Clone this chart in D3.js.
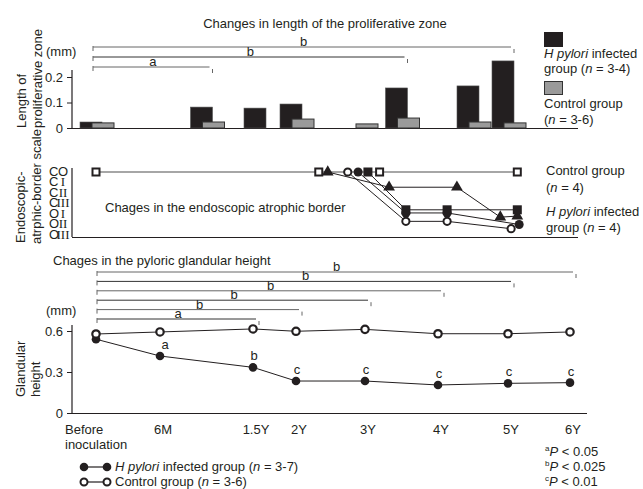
<!DOCTYPE html>
<html>
<head>
<meta charset="UTF-8" />
<title>H pylori chart</title>
<script src="https://d3js.org/d3.v7.min.js"></script>
<style>
  body { margin: 0; background: #fff; }
  svg text { font-family: "Liberation Sans", Arial, sans-serif; font-size: 13px; fill: #231f20; }
</style>
</head>
<body>
<svg id="chart" width="643" height="489"></svg>
<script>
// time axis shared by the three panels
const timeLabels = ["Before", "6M", "1.5Y", "2Y", "3Y", "4Y", "5Y", "6Y"]
const timeYears = [0, 0.5, 1.5, 2, 3, 4, 5, 6]

// top panel: length of proliferative zone (mm)
const prolifYears = [0, 1, 1.5, 2, 3, 3.5, 4.5, 5]
const prolifInfected = [0.0235, 0.082, 0.078, 0.094, null, 0.157, 0.165, 0.263]
const prolifControl = [0.02, 0.0235, null, 0.035, 0.016, 0.039, 0.0235, 0.02]
const prolifBracketEnds = [5, 3.5, 1]
const prolifBracketLabels = ["b", "b", "a"]

// middle panel: endoscopic atrophic border (0 = C-0 ... 6 = O-III)
const borderLevelA = ["C", "C", "C", "C", "O", "O", "O"]
const borderLevelB = ["O", "I", "II", "III", "I", "II", "III"]
const ctrlBorderYears = [0, 2.33, 3.2, 5.15]
const ctrlBorderLevels = [0, 0, 0, 0]
const triYears = [2.46, 3.33, 4.27, 4.89, 5.15]
const triLevels = [0, 1.45, 1.45, 4.3, 4.2]
const sqYears = [3.04, 3.56, 4.13, 5.15]
const sqLevels = [0, 3.6, 3.6, 3.6]
const dotYears = [2.9, 3.56, 4.13, 5.18]
const dotLevels = [0, 3.9, 3.9, 5.0]
const ringYears = [2.75, 3.56, 4.13, 5.05]
const ringLevels = [0, 4.7, 4.7, 5.4]

// bottom panel: pyloric glandular height (mm)
const heightInfected = [0.54, 0.417, 0.334, 0.234, 0.234, 0.205, 0.217, 0.222]
const heightControl = [0.578, 0.593, 0.615, 0.598, 0.612, 0.58, 0.58, 0.593]
const heightSig = [null, "a", "b", "c", "c", "c", "c", "c"]
const heightBracketEnds = [6, 5, 4, 3, 2, 1.5]
const heightBracketLabels = ["b", "b", "b", "b", "b", "a"]

const ink = "#231f20"
const svg = d3.select("#chart")

// scales
const x = d3.scaleLinear().domain(timeYears).range([96, 160, 253, 296, 365, 438, 508, 570])
const yTop = d3.scaleLinear().domain([0, 0.2]).range([128, 77])
const yMid = d3.scaleLinear().domain([0, 6]).range([172, 235])
const yBot = d3.scaleLinear().domain([0, 0.6]).range([413, 331])

function line(x1, y1, x2, y2, col, w) {
  svg.append("line").attr("x1", x1).attr("y1", y1).attr("x2", x2).attr("y2", y2)
    .attr("stroke", col || ink).attr("stroke-width", w || 1)
}

function yAxis(scale, ticks, fmt, top) {
  const ax = d3.axisLeft(scale).tickValues(ticks).tickSize(5).tickFormat(fmt)
  const g = svg.append("g").attr("transform", "translate(72,0)").call(ax)
  g.select(".domain").remove()
  g.selectAll("line").attr("stroke", ink)
  g.selectAll("text").attr("font-size", 13).attr("font-family", null).attr("dx", -1)
  line(72, top, 72, scale.range()[0] + 0.5, ink, 1.2)
}

function brackets(ends, labels, y0, step, xStart) {
  ends.forEach((t, i) => {
    const y = y0 + i * step
    const x2 = x(t) + 6
    line(xStart, y, x2 - 3, y, i % 2 ? "#333" : "#666", 1)
    line(xStart, y - 1, xStart, y + 4, "#666", 1)
    line(x2, y + 2, x2, y + 6, "#666", 1)
    svg.append("text").attr("x", (xStart + x2) / 2).attr("y", y - 1)
      .attr("text-anchor", "middle").text(labels[i])
  })
}

function vlabel(txt, xb, yb) {
  svg.append("text").attr("transform", `translate(${xb},${yb}) rotate(-90)`)
    .attr("font-size", 12).text(txt)
}

// ---------- top panel ----------
svg.append("text").attr("x", 325).attr("y", 28).attr("text-anchor", "middle")
  .text("Changes in length of the proliferative zone")
svg.append("text").attr("x", 46).attr("y", 56).text("(mm)")
brackets(prolifBracketEnds, prolifBracketLabels, 47, 10, 93)
yAxis(yTop, [0, 0.1, 0.2], d => d === 0 ? "0" : d3.format(".1f")(d), 70)
line(72, 128.5, 578, 128.5, ink, 1.2)
vlabel("Length of", 26, 128)
vlabel("proliferative zone", 42, 128)

const barW = 22
prolifYears.forEach((t, i) => {
  const both = prolifInfected[i] !== null && prolifControl[i] !== null
  const c = x(t)
  if (prolifInfected[i] !== null) {
    const bx = both ? c - 16 : c - 9
    svg.append("rect").attr("x", bx).attr("y", yTop(prolifInfected[i]))
      .attr("width", barW).attr("height", yTop(0) - yTop(prolifInfected[i]))
      .attr("fill", ink).attr("stroke", "#555").attr("stroke-width", 0.6)
  }
  if (prolifControl[i] !== null) {
    const bx = both ? c - 4 : c - 9
    svg.append("rect").attr("x", bx).attr("y", yTop(prolifControl[i]))
      .attr("width", barW).attr("height", yTop(0) - yTop(prolifControl[i]))
      .attr("fill", "#9a9a9a").attr("stroke", "#333").attr("stroke-width", 1)
  }
})

// top legend
svg.append("rect").attr("x", 544).attr("y", 32).attr("width", 19).attr("height", 15).attr("fill", ink)
let t1 = svg.append("text").attr("x", 544).attr("y", 58)
t1.append("tspan").attr("font-style", "italic").text("H pylori")
t1.append("tspan").text(" infected")
t1 = svg.append("text").attr("x", 544).attr("y", 73)
t1.append("tspan").text("group (")
t1.append("tspan").attr("font-style", "italic").text("n")
t1.append("tspan").text(" = 3-4)")
svg.append("rect").attr("x", 544.5).attr("y", 81.5).attr("width", 18).attr("height", 13)
  .attr("fill", "#9a9a9a").attr("stroke", "#333")
svg.append("text").attr("x", 544).attr("y", 108).text("Control group")
t1 = svg.append("text").attr("x", 544).attr("y", 124)
t1.append("tspan").text("(")
t1.append("tspan").attr("font-style", "italic").text("n")
t1.append("tspan").text(" = 3-6)")

// ---------- middle panel ----------
line(72, 168, 72, 237, ink, 1.2)
line(72, 237.5, 578, 237.5, ink, 1.2)
vlabel("Endoscopic-", 25, 243)
vlabel("atrphic-border scale", 41, 244)
borderLevelA.forEach((a, i) => {
  svg.append("text").attr("x", 49).attr("y", yMid(i) + 3.5).attr("font-size", 9.5).text(a)
  svg.append("text").attr("x", 63).attr("y", yMid(i) + 3.5).attr("text-anchor", "middle")
    .attr("font-size", 9.5)
    .style("font-family", borderLevelB[i] === "O" ? null : "'Liberation Serif', serif")
    .text(borderLevelB[i])
})
svg.append("text").attr("x", 105).attr("y", 212).text("Chages in the endoscopic atrophic border")

const mline = d3.line().x(d => x(d[0])).y(d => yMid(d[1]))
const zip = (a, b) => a.map((v, i) => [v, b[i]])
svg.append("path").attr("d", mline(zip(ctrlBorderYears, ctrlBorderLevels)))
  .attr("fill", "none").attr("stroke", "#888").attr("stroke-width", 1.5)
;[[triYears, triLevels], [sqYears, sqLevels], [dotYears, dotLevels], [ringYears, ringLevels]].forEach(s => {
  svg.append("path").attr("d", mline(zip(s[0], s[1])))
    .attr("fill", "none").attr("stroke", ink).attr("stroke-width", 1)
})
zip(ctrlBorderYears, ctrlBorderLevels).forEach(d => {
  svg.append("rect").attr("x", x(d[0]) - 3.5).attr("y", yMid(d[1]) - 3.5).attr("width", 7).attr("height", 7)
    .attr("fill", "#fff").attr("stroke", ink).attr("stroke-width", 2)
})
zip(triYears, triLevels).forEach(d => {
  svg.append("path").attr("d", d3.symbol(d3.symbolTriangle, 60)())
    .attr("transform", `translate(${x(d[0])},${yMid(d[1])})`).attr("fill", ink)
})
zip(sqYears, sqLevels).forEach(d => {
  svg.append("rect").attr("x", x(d[0]) - 4.5).attr("y", yMid(d[1]) - 4.5).attr("width", 9).attr("height", 9)
    .attr("fill", ink)
})
zip(dotYears, dotLevels).forEach(d => {
  svg.append("circle").attr("cx", x(d[0])).attr("cy", yMid(d[1])).attr("r", 4.5).attr("fill", ink)
})
zip(ringYears, ringLevels).forEach(d => {
  svg.append("circle").attr("cx", x(d[0])).attr("cy", yMid(d[1])).attr("r", 3.6)
    .attr("fill", "#fff").attr("stroke", ink).attr("stroke-width", 2)
})

// middle legend
svg.append("text").attr("x", 546).attr("y", 175).text("Control group")
t1 = svg.append("text").attr("x", 546).attr("y", 192)
t1.append("tspan").text("(")
t1.append("tspan").attr("font-style", "italic").text("n")
t1.append("tspan").text(" = 4)")
t1 = svg.append("text").attr("x", 546).attr("y", 216)
t1.append("tspan").attr("font-style", "italic").text("H pylori")
t1.append("tspan").text(" infected")
t1 = svg.append("text").attr("x", 546).attr("y", 232)
t1.append("tspan").text("group (")
t1.append("tspan").attr("font-style", "italic").text("n")
t1.append("tspan").text(" = 4)")

// ---------- bottom panel ----------
svg.append("text").attr("x", 53).attr("y", 265).text("Chages in the pyloric glandular height")
brackets(heightBracketEnds, heightBracketLabels, 272, 9.4, 97)
svg.append("text").attr("x", 46).attr("y", 315).text("(mm)")
yAxis(yBot, [0, 0.3, 0.6], d => d === 0 ? "0" : d3.format(".1f")(d), 325)
line(72, 413.5, 587, 413.5, ink, 1.2)
vlabel("Glandular", 25, 397)
vlabel("height", 40, 397)

const bline = d3.line().x((d, i) => x(timeYears[i])).y(d => yBot(d))
svg.append("path").attr("d", bline(heightControl)).attr("fill", "none").attr("stroke", ink).attr("stroke-width", 1)
svg.append("path").attr("d", bline(heightInfected)).attr("fill", "none").attr("stroke", ink).attr("stroke-width", 1)
heightInfected.forEach((v, i) => {
  svg.append("circle").attr("cx", x(timeYears[i])).attr("cy", yBot(v)).attr("r", 4.3).attr("fill", ink)
  if (heightSig[i]) {
    svg.append("text").attr("x", x(timeYears[i]) + (i === 1 ? 5 : 1)).attr("y", yBot(v) - 7)
      .attr("text-anchor", "middle").text(heightSig[i])
  }
})
heightControl.forEach((v, i) => {
  svg.append("circle").attr("cx", x(timeYears[i])).attr("cy", yBot(v)).attr("r", 3.7)
    .attr("fill", "#fff").attr("stroke", ink).attr("stroke-width", 2.2)
})

// x labels
timeLabels.forEach((lab, i) => {
  if (i === 0) {
    svg.append("text").attr("x", 65).attr("y", 434).text(lab)
    svg.append("text").attr("x", 65).attr("y", 449).text("inoculation")
  } else {
    svg.append("text").attr("x", x(timeYears[i]) + 3).attr("y", 434).attr("text-anchor", "middle").text(lab)
  }
})

// bottom legend
line(83, 467, 107, 467, ink, 1.2)
svg.append("circle").attr("cx", 84).attr("cy", 467).attr("r", 4.3).attr("fill", ink)
svg.append("circle").attr("cx", 107).attr("cy", 467).attr("r", 4.3).attr("fill", ink)
t1 = svg.append("text").attr("x", 115).attr("y", 471)
t1.append("tspan").attr("font-style", "italic").text("H pylori")
t1.append("tspan").text(" infected group (")
t1.append("tspan").attr("font-style", "italic").text("n")
t1.append("tspan").text(" = 3-7)")
line(83, 482, 107, 482, ink, 1.2)
svg.append("circle").attr("cx", 84).attr("cy", 482).attr("r", 3.5).attr("fill", "#fff").attr("stroke", ink).attr("stroke-width", 2)
svg.append("circle").attr("cx", 107).attr("cy", 482).attr("r", 3.5).attr("fill", "#fff").attr("stroke", ink).attr("stroke-width", 2)
t1 = svg.append("text").attr("x", 115).attr("y", 486)
t1.append("tspan").text("Control group (")
t1.append("tspan").attr("font-style", "italic").text("n")
t1.append("tspan").text(" = 3-6)")

// p-value notes
const pNotes = [["a", "0.05"], ["b", "0.025"], ["c", "0.01"]]
pNotes.forEach((p, i) => {
  const t = svg.append("text").attr("x", 545).attr("y", 456 + i * 15)
  t.append("tspan").attr("font-size", 8).attr("dy", -5).text(p[0])
  t.append("tspan").attr("font-style", "italic").attr("dy", 5).text("P")
  t.append("tspan").text(" < " + p[1])
})
</script>
</body>
</html>
